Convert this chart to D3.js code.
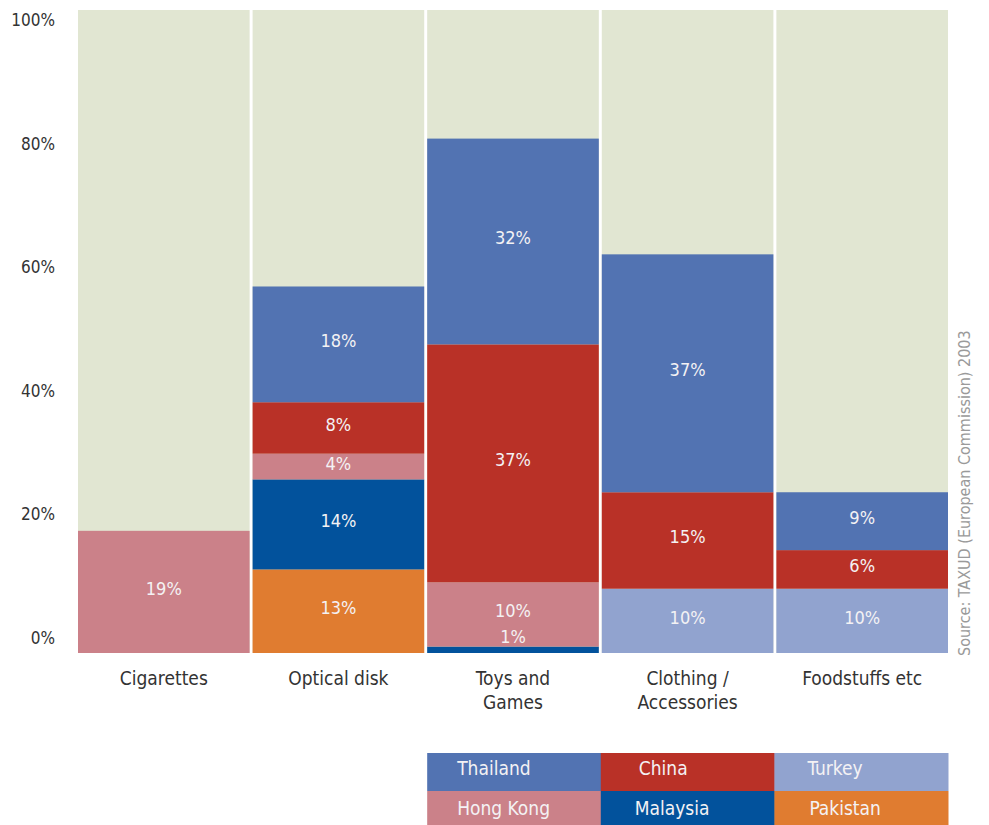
<!DOCTYPE html>
<html>
<head>
<meta charset="utf-8">
<script src="https://cdn.jsdelivr.net/npm/d3@7"></script>
<style>
  html, body { margin: 0; padding: 0; background: #ffffff; }
  svg { display: block; }
  text { font-family: "Liberation Sans Narrow", "DejaVu Sans Condensed", "Roboto", sans-serif; }
</style>
</head>
<body>
<svg id="chart" width="989" height="825"></svg>
<script>
// ---------- data ----------
const categories = ["Cigarettes", "Optical disk", "Toys and Games", "Clothing / Accessories", "Foodstuffs etc"];
const categoryLines = [["Cigarettes"], ["Optical disk"], ["Toys and", "Games"], ["Clothing /", "Accessories"], ["Foodstuffs etc"]];
// stack order, bottom to top
const countries = ["Pakistan", "Malaysia", "Turkey", "Hong Kong", "China", "Thailand"];
const pakistan = [0, 13, 0, 0, 0];
const malaysia = [0, 14, 1, 0, 0];
const turkey   = [0, 0, 0, 10, 10];
const hongKong = [19, 4, 10, 0, 0];
const china    = [0, 8, 37, 15, 6];
const thailand = [0, 18, 32, 37, 9];
const yTicks = [0, 20, 40, 60, 80, 100];
const legendOrder = [["Thailand", "China", "Turkey"], ["Hong Kong", "Malaysia", "Pakistan"]];
const sourceText = "Source: TAXUD (European Commission) 2003";

const seriesValues = { "Pakistan": pakistan, "Malaysia": malaysia, "Turkey": turkey,
  "Hong Kong": hongKong, "China": china, "Thailand": thailand };
const colors = { "Thailand": "#5273b2", "China": "#b93127", "Turkey": "#91a3cf",
  "Hong Kong": "#cb8189", "Malaysia": "#02529c", "Pakistan": "#e07c30" };
const bgColor = "#e1e6d2";

// ---------- layout ----------
const svg = d3.select("#chart");
const x = d3.scaleBand().domain(categories).range([78, 948]).paddingInner(0.017).paddingOuter(0);
const y = d3.scaleLinear().domain([0, 100]).range([653, 10]);
const yLab = d3.scaleLinear().domain([0, 100]).range([638, 20]);

// table rows for d3.stack
const rows = categories.map((c, i) => {
  const r = { category: c };
  countries.forEach(k => r[k] = seriesValues[k][i]);
  return r;
});
const stacked = d3.stack().keys(countries)(rows);

// background (100%) columns
svg.append("g").selectAll("rect").data(categories).join("rect")
  .attr("x", d => x(d)).attr("width", x.bandwidth())
  .attr("y", y(100)).attr("height", y(0) - y(100))
  .attr("fill", bgColor);

// stacked segments
const segG = svg.append("g");
stacked.forEach(layer => {
  const key = layer.key;
  layer.forEach((seg, i) => {
    const v = seg[1] - seg[0];
    if (v <= 0) return;
    const cat = categories[i];
    segG.append("rect")
      .attr("x", x(cat)).attr("width", x.bandwidth())
      .attr("y", y(seg[1])).attr("height", y(seg[0]) - y(seg[1]))
      .attr("fill", colors[key]);
  });
});
// value labels
const labG = svg.append("g");
stacked.forEach(layer => {
  layer.forEach((seg, i) => {
    const v = seg[1] - seg[0];
    if (v <= 0) return;
    const cat = categories[i];
    const h = y(seg[0]) - y(seg[1]);
    let ty = (y(seg[0]) + y(seg[1])) / 2 + 3;
    if (h < 14) ty = y(seg[1]) - 4;
    labG.append("text")
      .attr("x", x(cat) + x.bandwidth() / 2).attr("y", ty)
      .attr("text-anchor", "middle")
      .attr("font-size", 18)
      .attr("fill", "#f4f2f4")
      .text(v + "%");
  });
});

// y axis labels
svg.append("g").selectAll("text").data(yTicks).join("text")
  .attr("x", 55).attr("y", d => yLab(d) + 6)
  .attr("text-anchor", "end")
  .attr("font-size", 17)
  .attr("fill", "#333")
  .text(d => d + "%");

// category labels
const catG = svg.append("g").selectAll("text").data(categories).join("text")
  .attr("x", d => x(d) + x.bandwidth() / 2)
  .attr("y", 685)
  .attr("text-anchor", "middle")
  .attr("font-size", 19)
  .attr("fill", "#333");
catG.each(function(d, i) {
  const t = d3.select(this);
  categoryLines[i].forEach((line, j) => {
    t.append("tspan").attr("x", x(d) + x.bandwidth() / 2).attr("dy", j === 0 ? 0 : 24).text(line);
  });
});

// legend
const legX0 = x(categories[2]);
const legW = (948 - legX0) / 3;
const legY0 = 753;
const legRowTop = [753, 791], legRowH = [38, 34], legBase = [22, 24];
const legOffsets = [[30, 38, 33], [30, 34, 35]];
legendOrder.forEach((row, r) => {
  row.forEach((name, c) => {
    svg.append("rect")
      .attr("x", legX0 + c * legW).attr("y", legRowTop[r])
      .attr("width", legW + 0.5).attr("height", legRowH[r])
      .attr("fill", colors[name]);
    svg.append("text")
      .attr("x", legX0 + c * legW + legOffsets[r][c])
      .attr("y", legRowTop[r] + legBase[r])
      .attr("font-size", 19)
      .attr("fill", "#f4f2f4")
      .text(name);
  });
});

// source text
svg.append("text")
  .attr("transform", "translate(970,656) rotate(-90)")
  .attr("font-size", 16)
  .attr("fill", "#9a9a9a")
  .text(sourceText);
</script>
</body>
</html>
